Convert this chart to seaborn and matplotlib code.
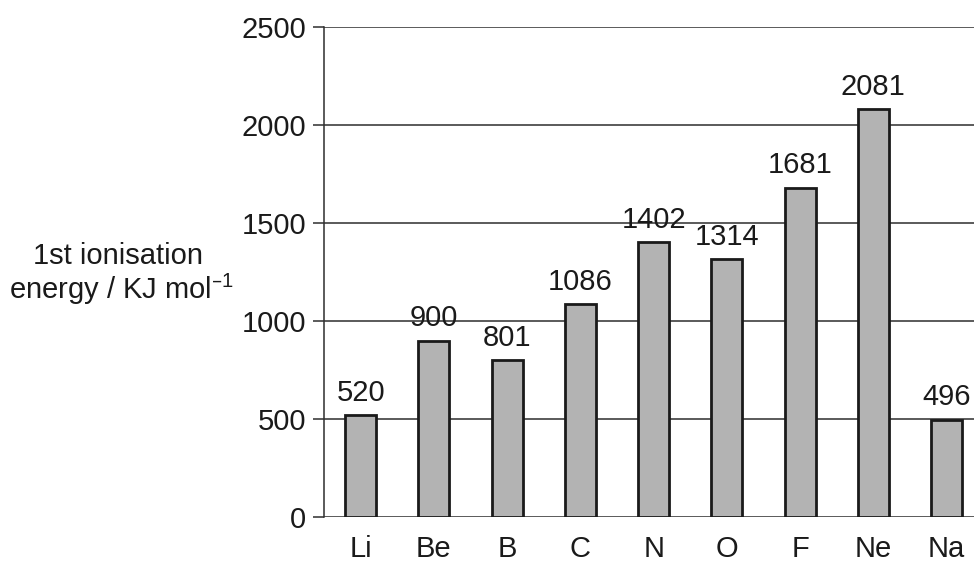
import matplotlib
matplotlib.use("Agg")
import matplotlib.pyplot as plt
import seaborn as sns
import pandas as pd
import numpy as np

elements = ["Li", "Be", "B", "C", "N", "O", "F", "Ne", "Na"]
energies = [520, 900, 801, 1086, 1402, 1314, 1681, 2081, 496]
y_ticks = [0, 500, 1000, 1500, 2000, 2500]

sns.set_theme(style="white")
plt.rcParams["font.family"] = ["Liberation Sans", "DejaVu Sans"]
plt.rcParams["mathtext.default"] = "regular"

FS = 21
INK = "#1a1a1a"
LINE = "#2e2e2e"

df = pd.DataFrame({"element": elements, "energy": energies})

fig = plt.figure(figsize=(9.74, 5.62), dpi=100)
ax = fig.add_axes([324 / 974, 45 / 562, 659.25 / 974, 490 / 562])

sns.barplot(data=df, x="element", y="energy", ax=ax, color="#b3b3b3",
            saturation=1, width=0.42, edgecolor=INK, linewidth=2,
            zorder=3)

ax.set_ylim(0, 2500)
ax.set_xlim(-0.5, len(elements) - 0.5)
ax.set_yticks(y_ticks)
ax.set_yticklabels([str(t) for t in y_ticks], fontsize=FS, color=INK)
ax.yaxis.grid(True, color=LINE, linewidth=1.1, zorder=0)
ax.set_axisbelow(True)

# category labels centred, tick marks at category boundaries
ax.set_xticks(np.arange(len(elements)))
ax.set_xticklabels(elements, fontsize=FS, color=INK)
ax.set_xticks(np.arange(len(elements) + 1) - 0.5, minor=True)
ax.tick_params(axis="x", which="major", length=0, pad=13)
ax.tick_params(axis="x", which="minor", length=8, width=1.1,
               color=LINE, direction="out")
ax.tick_params(axis="y", which="major", length=8, width=1.1,
               color=LINE, direction="out", pad=5, left=True)
ax.set_xlabel("")
ax.set_ylabel("")

for side in ["top", "right", "bottom"]:
    ax.spines[side].set_visible(False)
ax.spines["left"].set_color(LINE)
ax.spines["left"].set_linewidth(1.1)

for i, v in enumerate(energies):
    ax.annotate(str(v), (i, v), xytext=(0, 6), textcoords="offset points",
                ha="center", va="bottom", fontsize=FS, color=INK)

fig.text(118 / 974, 1 - 256 / 562, "1st ionisation", ha="center",
         va="center", fontsize=FS, color=INK)
fig.text(122 / 974, 1 - 289 / 562, "energy / KJ mol$^{\u2013 1}$",
         ha="center", va="center", fontsize=FS, color=INK)

fig.savefig("out.png", dpi=100)
